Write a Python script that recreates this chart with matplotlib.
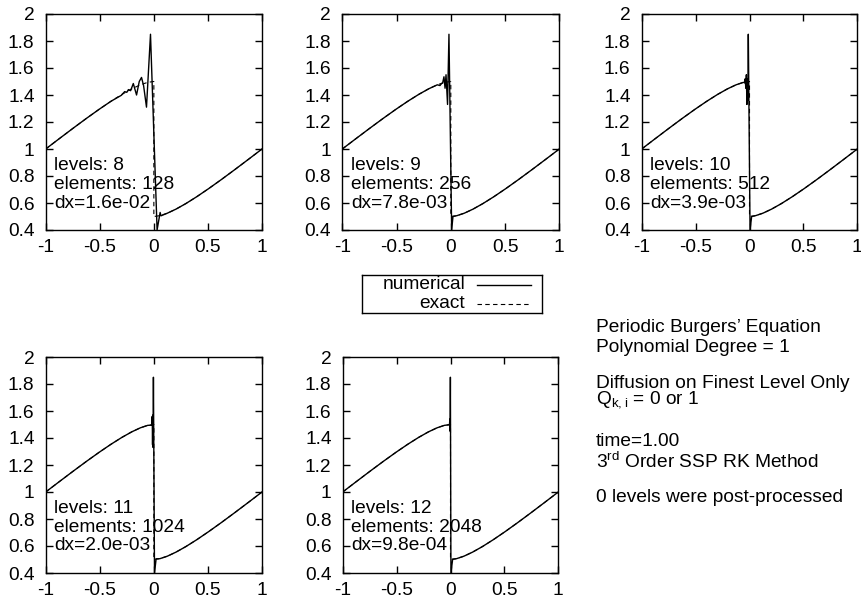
import numpy as np
import matplotlib
matplotlib.use("Agg")
import matplotlib.pyplot as plt

plt.rcParams.update({
    "font.family": ["Liberation Sans", "DejaVu Sans"],
    "font.size": 13.8,
    "mathtext.fontset": "custom",
    "mathtext.rm": "Liberation Sans",
    "axes.linewidth": 1.0,
    "xtick.direction": "in",
    "ytick.direction": "in",
    "xtick.top": True,
    "ytick.right": True,
    "xtick.major.size": 4.8,
    "ytick.major.size": 4.8,
    "xtick.major.width": 1.0,
    "ytick.major.width": 1.0,
    "xtick.major.pad": 6.5,
    "ytick.major.pad": 8.0,
})

# exact solution at t=1, left of the shock and right of the shock
X_LEFT = [-1.0, -0.8718, -0.7455, -0.623, -0.5061, -0.3964, -0.2955, -0.2045,
          -0.1245, -0.0562, 0.0]
U_LEFT = [1.0, 1.0782, 1.1545, 1.227, 1.2939, 1.3536, 1.4045, 1.4455,
          1.4755, 1.4938, 1.5]
X_RIGHT = [0.0, 0.0562, 0.1245, 0.2045, 0.2955, 0.3964, 0.5061, 0.623,
           0.7455, 0.8718, 1.0]
U_RIGHT = [0.5, 0.5062, 0.5245, 0.5545, 0.5955, 0.6464, 0.7061, 0.773,
           0.8455, 0.9218, 1.0]

# numerical solution near the shock, per refinement level
LEVELS = [8, 9, 10, 11, 12]
ELEMENTS = [128, 256, 512, 1024, 2048]
DX = ["1.6e-02", "7.8e-03", "3.9e-03", "2.0e-03", "9.8e-04"]
OSC_X = {
    8: [-0.30, -0.27, -0.25, -0.235, -0.215, -0.19, -0.16, -0.135, -0.114,
        -0.095, -0.068, -0.031, 0.03, 0.058, 0.066],
    9: [-0.10, -0.085, -0.075, -0.063, -0.053, -0.044, -0.030, -0.017, 0.008, 0.02],
    10: [-0.045, -0.040, -0.034, -0.029, -0.024, -0.019, -0.015, -0.011, 0.005, 0.02],
    11: [-0.02, -0.015, -0.012, -0.009, -0.007, -0.004, 0.006, 0.021],
    12: [-0.01, -0.005, -0.003, -0.001, 0.004, 0.02],
}
OSC_U = {
    8: [1.398, 1.425, 1.420, 1.440, 1.432, 1.485, 1.400, 1.500, 1.530,
        1.470, 1.310, 1.850, 0.400, 0.530, 0.505],
    9: [1.47, 1.485, 1.49, 1.535, 1.45, 1.55, 1.33, 1.85, 0.40, 0.50],
    10: [1.49, 1.52, 1.45, 1.55, 1.33, 1.52, 1.36, 1.85, 0.40, 0.50],
    11: [1.495, 1.56, 1.35, 1.57, 1.33, 1.85, 0.40, 0.505],
    12: [1.498, 1.54, 1.45, 1.85, 0.40, 0.502],
}

INFO_LINES = [
    ("Periodic Burgers\u2019 Equation", 327),
    ("Polynomial Degree = 1", 347),
    ("Diffusion on Finest Level Only", 383),
    (r"Q$_\mathregular{k,i}$ = 0 or 1", 400),
    ("time=1.00", 442),
    (r"3$^\mathregular{rd}$ Order SSP RK Method", 462),
    ("0 levels were post-processed", 498),
]

DASH = (0, (4, 3))

W, H = 861, 600
fig = plt.figure(figsize=(W / 100, H / 100), dpi=100)

# panel boxes in pixels: left, top, right, bottom
boxes = [
    (45.7, 14, 262, 230),
    (342.3, 14, 559.3, 230),
    (641.7, 14, 857.3, 230),
    (45.7, 357, 262, 573),
    (342.7, 357, 558.3, 573),
]

x_exact = np.array(X_LEFT + X_RIGHT)
u_exact = np.array(U_LEFT + U_RIGHT)

for (l, t, r, b), lev, nel, dx in zip(boxes, LEVELS, ELEMENTS, DX):
    ax = fig.add_axes([l / W, 1 - b / H, (r - l) / W, (b - t) / H])
    ox = OSC_X[lev]
    ou = OSC_U[lev]
    xl = [x for x in X_LEFT if x < ox[0]]
    ul = [u for x, u in zip(X_LEFT, U_LEFT) if x < ox[0]]
    xr = [x for x in X_RIGHT if x > ox[-1]]
    ur = [u for x, u in zip(X_RIGHT, U_RIGHT) if x > ox[-1]]
    x_num = xl + ox + xr
    u_num = ul + ou + ur

    ax.plot(x_exact, u_exact, color="black", lw=0.8, ls=DASH)
    ax.plot(x_num, u_num, color="black", lw=1.0)

    ax.set_xlim(-1, 1)
    ax.set_ylim(0.4, 2.0)
    ax.set_xticks([-1, -0.5, 0, 0.5, 1])
    ax.set_xticklabels(["-1", "-0.5", "0", "0.5", "1"])
    ax.set_yticks([0.4, 0.6, 0.8, 1.0, 1.2, 1.4, 1.6, 1.8, 2.0])
    ax.set_yticklabels(["0.4", "0.6", "0.8", "1", "1.2", "1.4", "1.6", "1.8", "2"])

    ax.text(-0.92, 0.88, f"levels: {lev}", va="center", ha="left")
    ax.text(-0.92, 0.74, f"elements: {nel}", va="center", ha="left")
    ax.text(-0.92, 0.60, f"dx={dx}", va="center", ha="left")

# legend box between the two rows
lg = fig.add_axes([362 / W, 1 - 313 / H, 180 / W, 38 / H])
lg.set_xlim(0, 1)
lg.set_ylim(0, 1)
lg.set_xticks([])
lg.set_yticks([])
lg.tick_params(top=False, right=False)
lg.text(0.572, 0.74, "numerical", ha="right", va="center")
lg.text(0.572, 0.24, "exact", ha="right", va="center")
lg.plot([0.639, 0.939], [0.74, 0.74], color="black", lw=1.0)
lg.plot([0.639, 0.939], [0.24, 0.24], color="black", lw=0.8, ls=DASH)

for txt, ypx in INFO_LINES:
    fig.text(596 / W, 1 - ypx / H, txt, ha="left", va="center")

fig.savefig("out.png", dpi=100)
